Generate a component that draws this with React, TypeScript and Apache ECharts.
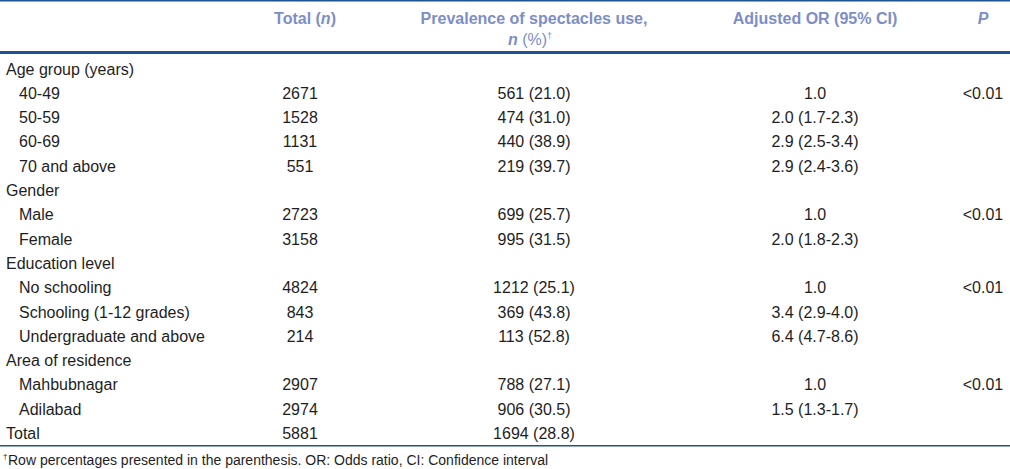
import React, { useEffect, useRef } from "react";
import * as echarts from "echarts";

const categories = [
  "Age group (years)", "40-49", "50-59", "60-69", "70 and above",
  "Gender", "Male", "Female",
  "Education level", "No schooling", "Schooling (1-12 grades)", "Undergraduate and above",
  "Area of residence", "Mahbubnagar", "Adilabad",
  "Total",
];
const indentLevel = [0, 1, 1, 1, 1, 0, 1, 1, 0, 1, 1, 1, 0, 1, 1, 0];
const totalN = [null, 2671, 1528, 1131, 551, null, 2723, 3158, null, 4824, 843, 214, null, 2907, 2974, 5881];
const usersN = [null, 561, 474, 440, 219, null, 699, 995, null, 1212, 369, 113, null, 788, 906, 1694];
const usersPct = [null, 21.0, 31.0, 38.9, 39.7, null, 25.7, 31.5, null, 25.1, 43.8, 52.8, null, 27.1, 30.5, 28.8];
const orValue = [null, 1.0, 2.0, 2.9, 2.9, null, 1.0, 2.0, null, 1.0, 3.4, 6.4, null, 1.0, 1.5, null];
const orLow = [null, null, 1.7, 2.5, 2.4, null, null, 1.8, null, null, 2.9, 4.7, null, null, 1.3, null];
const orHigh = [null, null, 2.3, 3.4, 3.6, null, null, 2.3, null, null, 4.0, 8.6, null, null, 1.7, null];
const pValues = ["", "<0.01", "", "", "", "", "<0.01", "", "", "<0.01", "", "", "", "<0.01", "", ""];
const footnote = "Row percentages presented in the parenthesis. OR: Odds ratio, CI: Confidence interval";

const FONT = "'Liberation Sans', Arial, Helvetica, sans-serif";
const HEAD_COLOR = "#7d8ec6";
const BODY_COLOR = "#1e1e1e";
const LINE_COLOR = "#1d5592";

export default function App() {
  const ref = useRef<HTMLDivElement>(null);
  useEffect(() => {
    document.body.style.margin = "0";
    const chart = echarts.init(ref.current!, null, { renderer: "svg" });

    const W = 1010;
    const rowY0 = 69;
    const rowStep = 24.3;
    const colTotal = 300;
    const colPrev = 534;
    const colOR = 815;
    const colP = 983;
    const fs = 16;

    const txt = (text: string, x: number, y: number, align: string, extra: any = {}) => ({
      type: "text",
      x,
      y,
      silent: true,
      style: {
        text,
        fill: BODY_COLOR,
        fontFamily: FONT,
        fontSize: fs,
        align,
        textAlign: align,
        verticalAlign: "middle",
        textVerticalAlign: "middle",
        ...extra,
      },
    });

    const headRich = {
      b: { fontFamily: FONT, fontSize: fs, fontWeight: "bold", fill: HEAD_COLOR, color: HEAD_COLOR },
      bi: { fontFamily: FONT, fontSize: fs, fontWeight: "bold", fontStyle: "italic", fill: HEAD_COLOR, color: HEAD_COLOR },
      r: { fontFamily: FONT, fontSize: fs, fill: HEAD_COLOR, color: HEAD_COLOR },
      sup: { fontFamily: FONT, fontSize: 9, fill: HEAD_COLOR, color: HEAD_COLOR, verticalAlign: "top" },
    };

    const elements: any[] = [];
    elements.push({ type: "rect", silent: true, shape: { x: 0, y: 0, width: W, height: 1.5 }, style: { fill: LINE_COLOR } });
    elements.push({ type: "rect", silent: true, shape: { x: 0, y: 51, width: W, height: 3 }, style: { fill: LINE_COLOR } });
    elements.push({ type: "rect", silent: true, shape: { x: 0, y: 445, width: W, height: 1.5 }, style: { fill: LINE_COLOR } });

    const hy = 18;
    elements.push(txt("{b|Total (}{bi|n}{b|)}", colTotal + 5, hy, "center", { rich: headRich }));
    elements.push(txt("{b|Prevalence of spectacles use,}", colPrev, hy, "center", { rich: headRich }));
    elements.push(txt("{bi|n}{r| (%)}{sup|†}", colPrev - 4, 39, "center", { rich: headRich }));
    elements.push(txt("{b|Adjusted OR (95% CI)}", colOR, hy, "center", { rich: headRich }));
    elements.push(txt("{bi|P}", colP, hy, "center", { rich: headRich }));

    categories.forEach((cat, i) => {
      const y = rowY0 + i * rowStep;
      elements.push(txt(cat, indentLevel[i] ? 19 : 6, y, "left"));
      if (totalN[i] != null) elements.push(txt(String(totalN[i]), colTotal, y, "center"));
      if (usersN[i] != null) elements.push(txt(`${usersN[i]} (${(usersPct[i] as number).toFixed(1)})`, colPrev, y, "center"));
      if (orValue[i] != null) {
        const v = (orValue[i] as number).toFixed(1);
        const s = orLow[i] != null ? `${v} (${(orLow[i] as number).toFixed(1)}-${(orHigh[i] as number).toFixed(1)})` : v;
        elements.push(txt(s, colOR, y, "center"));
      }
      if (pValues[i]) elements.push(txt(pValues[i], colP, y, "center"));
    });

    elements.push(txt("†", 3, 456, "left", { fontSize: 8 }));
    elements.push(txt(footnote, 8, 460, "left", { fontSize: 14 }));

    chart.setOption({
      animation: false,
      backgroundColor: "#ffffff",
      graphic: { elements },
    });
    return () => chart.dispose();
  }, []);
  return <div ref={ref} style={{ width: 1010, height: 469 }} />;
}
